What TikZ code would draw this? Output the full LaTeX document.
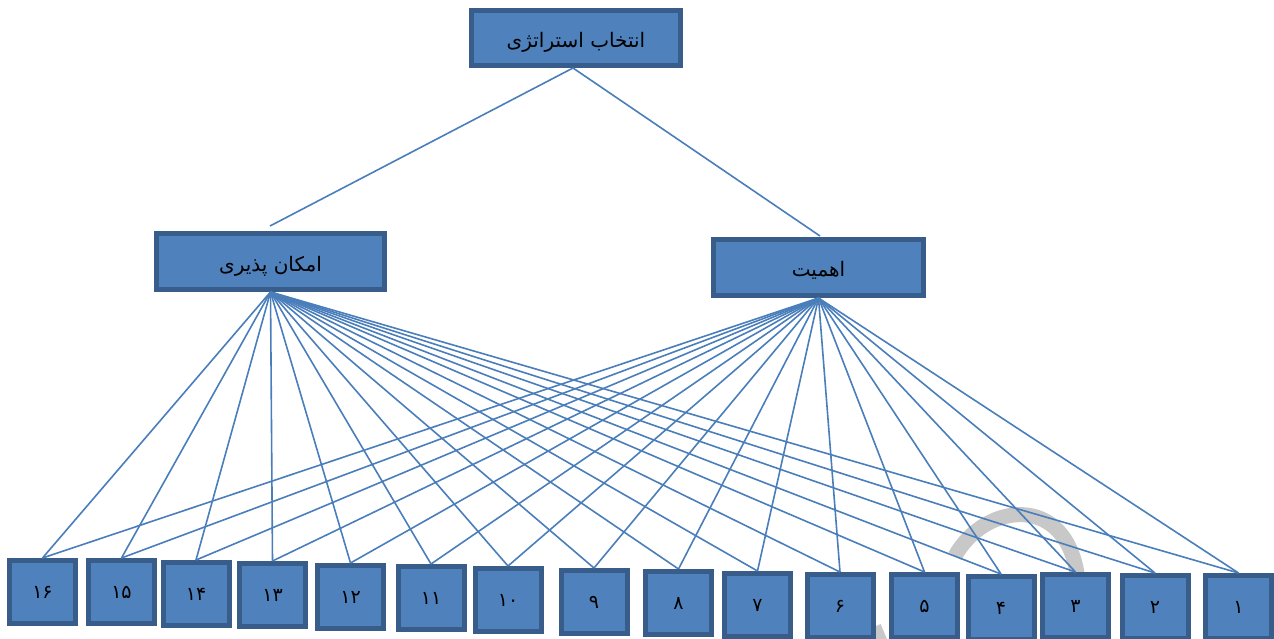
\documentclass[tikz,border=0pt]{standalone}
\usepackage{fontspec}
\newfontfamily\arabicfont[Script=Arabic]{DejaVu Sans}
\TeXXeTstate=1
\definecolor{boxfill}{HTML}{4F81BD}
\definecolor{boxborder}{HTML}{385D8A}
\definecolor{linkc}{HTML}{4A7EBB}
\definecolor{wmgray}{HTML}{C8C8C8}
\begin{document}
\begin{tikzpicture}[x=1pt,y=-1pt,
  box/.style={draw=boxborder, fill=boxfill, line width=5pt, inner sep=0pt, text=black,
    font=\arabicfont\fontsize{20}{24}\selectfont},
  bigbox/.style={box, minimum height=56pt},
  numbox/.style={box, minimum width=66pt, minimum height=63pt,
    font=\arabicfont\fontsize{19}{22}\selectfont},
  link/.style={draw=linkc, line width=1.6pt},
  wm/.style={draw=wmgray, line width=15pt}]
\useasboundingbox (0,0) rectangle (1274,639);
% watermark fragment
\draw[wm] (955,556) .. controls (985,502) and (1068,492) .. (1078,580);
\draw[wm, line width=10pt] (876,626) -- (884,645);
% main boxes
\node[bigbox, minimum width=209pt, minimum height=55pt] (top) at (576,38) {\raisebox{-4pt}[\height][\depth]{\beginR انتخاب استراتژی\endR}};
\node[bigbox, minimum width=228pt] (feas) at (270.5,261.5) {\raisebox{-5pt}[\height][\depth]{\beginR امکان پذیری\endR}};
\node[bigbox, minimum width=210pt] (imp) at (818.5,267.5) {\raisebox{-3pt}[\height][\depth]{\beginR اهمیت\endR}};
% numbered boxes
\node[numbox] (b16) at (42.5,592) {۱۶};
\node[numbox] (b15) at (121.5,592) {۱۵};
\node[numbox] (b14) at (196,594) {۱۴};
\node[numbox] (b13) at (272.5,595) {۱۳};
\node[numbox] (b12) at (350.5,597) {۱۲};
\node[numbox] (b11) at (431,598) {۱۱};
\node[numbox] (b10) at (508,600) {۱۰};
\node[numbox] (b9) at (594,602) {۹};
\node[numbox] (b8) at (678.5,603) {۸};
\node[numbox] (b7) at (757.5,605) {۷};
\node[numbox] (b6) at (840,606) {۶};
\node[numbox] (b5) at (924.5,606) {۵};
\node[numbox] (b4) at (1001,608) {۴};
\node[numbox] (b3) at (1075.5,606) {۳};
\node[numbox] (b2) at (1155,607) {۲};
\node[numbox] (b1) at (1238.5,607) {۱};
% top links
\coordinate (ts) at ([xshift=-3pt]top.south);
\coordinate (fe) at (270,226);
\coordinate (ie) at (820,236);
\draw[link] (ts) -- (fe);
\draw[link] (ts) -- (ie);
% lower links
\foreach \i in {1,...,16} {
  \draw[link] (feas.south) -- (b\i.north);
  \draw[link] (imp.south) -- (b\i.north);
}
\end{tikzpicture}
\end{document}
